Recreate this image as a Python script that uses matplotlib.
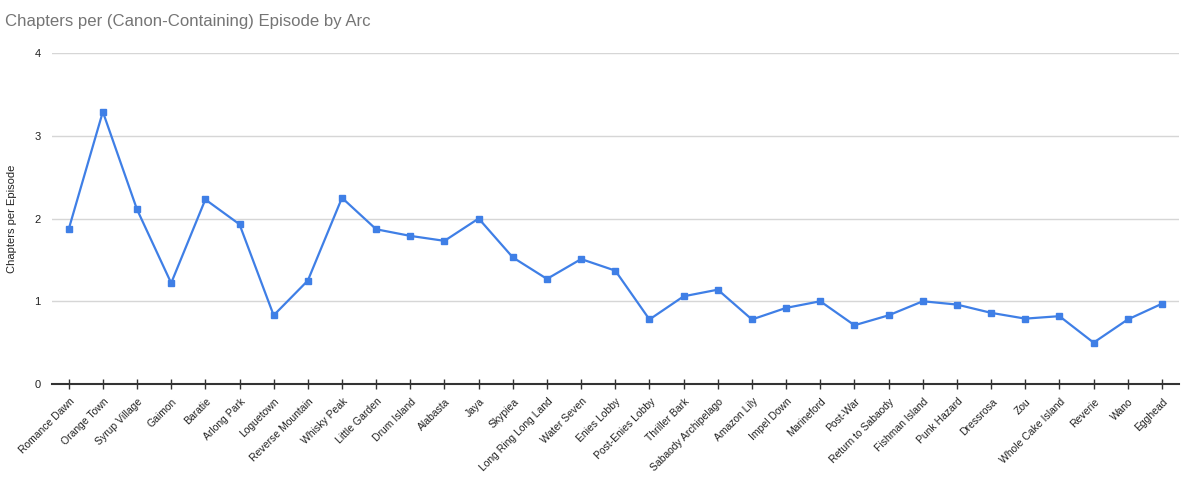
import matplotlib
matplotlib.use("Agg")
import matplotlib.pyplot as plt
from matplotlib.transforms import ScaledTranslation

plt.rcParams['font.family'] = ['Liberation Sans', 'DejaVu Sans']

arcs = ["Romance Dawn", "Orange Town", "Syrup Village", "Gaimon", "Baratie",
        "Arlong Park", "Loguetown", "Reverse Mountain", "Whisky Peak",
        "Little Garden", "Drum Island", "Alabasta", "Jaya", "Skypiea",
        "Long Ring Long Land", "Water Seven", "Enies Lobby", "Post-Enies Lobby",
        "Thriller Bark", "Sabaody Archipelago", "Amazon Lily", "Impel Down",
        "Marineford", "Post-War", "Return to Sabaody", "Fishman Island",
        "Punk Hazard", "Dressrosa", "Zou", "Whole Cake Island", "Reverie",
        "Wano", "Egghead"]
chapters_per_ep = [1.87, 3.29, 2.11, 1.22, 2.23, 1.93, 0.83, 1.25, 2.25,
                   1.87, 1.79, 1.73, 2.00, 1.53, 1.27, 1.51, 1.37, 0.78,
                   1.06, 1.14, 0.78, 0.92, 1.00, 0.71, 0.83, 1.00, 0.96,
                   0.86, 0.79, 0.82, 0.50, 0.78, 0.97]
y_ticks = [0, 1, 2, 3, 4]

fig = plt.figure(figsize=(12, 4.82), dpi=100)
ax = fig.add_axes([0.043, 0.2033, 0.9395, 0.6867])

x = list(range(len(arcs)))
ax.plot(x, chapters_per_ep, color='#3f7fe6', lw=1.6, marker='s', ms=5,
        zorder=3, clip_on=False)

ax.set_xlim(-0.5, len(arcs) - 0.5)
ax.set_ylim(0, 4)
ax.set_yticks(y_ticks)
ax.set_yticklabels([str(t) for t in y_ticks], fontsize=8, color='#222222')
ax.tick_params(axis='y', length=0, pad=8)
ax.grid(axis='y', color='#d6d6d6', lw=1)
ax.set_axisbelow(True)

ax.set_xticks(x)
ax.set_xticklabels(arcs, rotation=45, ha='right', va='center',
                   rotation_mode='anchor', fontsize=7.5, color='#222222')
ax.tick_params(axis='x', direction='inout', length=7, width=1,
               color='#333333', pad=8)
shift = ScaledTranslation(4 / 100, 0, fig.dpi_scale_trans)
for lbl in ax.get_xticklabels():
    lbl.set_transform(lbl.get_transform() + shift)

for s in ['top', 'right', 'left']:
    ax.spines[s].set_visible(False)
ax.spines['bottom'].set_color('#333333')
ax.spines['bottom'].set_linewidth(1.5)

ax.set_ylabel("Chapters per Episode", fontsize=8, color='#222222')
ax.yaxis.set_label_coords(-0.031, 0.5)

fig.text(0.004, 0.955, "Chapters per (Canon-Containing) Episode by Arc",
         fontsize=12.1, color='#757575', va='center', ha='left')

fig.savefig("out.png", dpi=100)
